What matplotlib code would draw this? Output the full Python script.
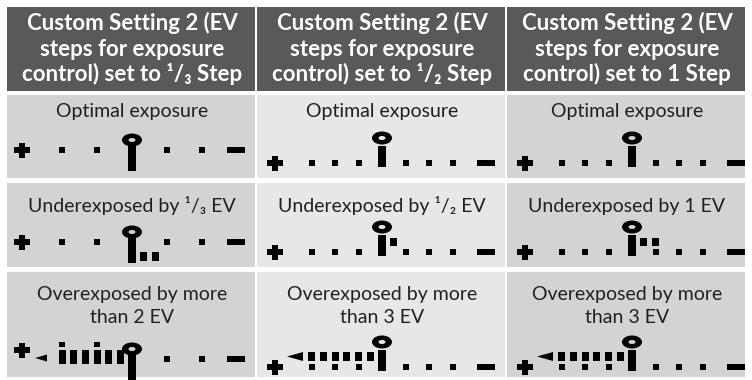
import matplotlib
matplotlib.use("Agg")
import matplotlib.pyplot as plt
from matplotlib.patches import Rectangle, Ellipse, Polygon

plt.rcParams['font.family'] = ['Lato', 'DejaVu Sans']

# ---------------- data ----------------
step_settings = ['¹/₃', '¹/₂', '1']
header_lines = [
    ['Custom Setting 2 (EV', 'steps for exposure', 'control) set to ¹/₃ Step'],
    ['Custom Setting 2 (EV', 'steps for exposure', 'control) set to ¹/₂ Step'],
    ['Custom Setting 2 (EV', 'steps for exposure', 'control) set to 1 Step'],
]
row_labels = [
    [['Optimal exposure'], ['Optimal exposure'], ['Optimal exposure']],
    [['Underexposed by ¹/₃ EV'], ['Underexposed by ¹/₂ EV'], ['Underexposed by 1 EV']],
    [['Overexposed by more', 'than 2 EV'], ['Overexposed by more', 'than 3 EV'],
     ['Overexposed by more', 'than 3 EV']],
]
# scale dots on each side of the centre mark, per column
scale_dots_per_side = [2, 3, 3]
# sub-divisions between two scale dots, per column
segments_per_dot = [3, 2, 2]
# deviation bars: + = under (to the right), - = over (to the left)
deviation_bars = [
    [0, 0, 0],
    [2, 1, 2],
    [-6, -6, -6],
]
# out-of-range arrow shown
over_range = [
    [False, False, False],
    [False, False, False],
    [True, True, True],
]

# ---------------- style / layout ----------------
HEADER_BG = '#58595b'
CELL_BG = ['#d1d3d4', '#e6e7e8', '#d1d3d4']
INK = '#231f20'
BLACK = '#000000'

col_x0 = [7, 257, 507]
col_x1 = [255, 505, 745]
header_y = (7, 91)
row_y = [(95, 178), (183, 267), (272, 377)]
header_baselines = [30, 55.5, 81]
label_baselines = [[117], [212], [300, 323]]

fig = plt.figure(figsize=(7.52, 3.80), dpi=100)
ax = fig.add_axes([0, 0, 1, 1])
ax.set_xlim(0, 752)
ax.set_ylim(380, 0)
ax.axis('off')


def rect_c(cx, cy, w, h, color=BLACK):
    ax.add_patch(Rectangle((cx - w / 2, cy - h / 2), w, h, facecolor=color,
                           edgecolor='none', zorder=3))


def plus(cx, cy):
    rect_c(cx, cy, 16, 5.5)
    rect_c(cx, cy, 5.5, 15)


def minus(cx, cy):
    rect_c(cx, cy, 18, 5.5)


def pin(cx, ring_y, bar_top, bar_bot, bg):
    ax.add_patch(Ellipse((cx, ring_y), 20, 13, facecolor=BLACK,
                         edgecolor='none', zorder=3))
    ax.add_patch(Ellipse((cx, ring_y), 7, 4, facecolor=bg,
                         edgecolor='none', zorder=4))
    ax.add_patch(Rectangle((cx - 4, bar_top), 8, bar_bot - bar_top,
                           facecolor=BLACK, edgecolor='none', zorder=3))


def arrow_left(x_tip, x_base, cy, h):
    ax.add_patch(Polygon([(x_tip, cy), (x_base, cy - h / 2), (x_base, cy + h / 2)],
                         closed=True, facecolor=BLACK, edgecolor='none', zorder=3))


# header cells
for c in range(3):
    ax.add_patch(Rectangle((col_x0[c], header_y[0]), col_x1[c] - col_x0[c],
                           header_y[1] - header_y[0], facecolor=HEADER_BG,
                           edgecolor='none'))
    cx = (col_x0[c] + col_x1[c]) / 2 + 1
    for line, yb in zip(header_lines[c], header_baselines):
        ax.text(cx, yb, line, ha='center', va='baseline', color='white',
                fontsize=16, fontweight='bold')

# body cells
for r in range(3):
    for c in range(3):
        x0, x1 = col_x0[c], col_x1[c]
        y0, y1 = row_y[r]
        bg = CELL_BG[c]
        ax.add_patch(Rectangle((x0, y0), x1 - x0, y1 - y0, facecolor=bg,
                               edgecolor='none'))
        cx = (x0 + x1) / 2 + 1
        for line, yb in zip(row_labels[r][c], label_baselines[r]):
            ax.text(cx, yb, line, ha='center', va='baseline', color=INK,
                    fontsize=14)

        # indicator
        n = scale_dots_per_side[c]
        seg = segments_per_dot[c]
        wide = (n == 2)
        spacing = 35.0 if wide else 23.5
        sub = spacing / seg
        px = x0 + 125
        if wide:
            dot_y = [150, 242, 359][r]
        else:
            dot_y = [163, 252, 367][r]
        dev = deviation_bars[r][c]
        arrow = over_range[r][c]

        # plus / minus
        plus_x = x0 + (15 if wide else 18)
        plus_y = dot_y - 9 if (wide and arrow) else dot_y
        plus(plus_x, plus_y)
        minus(x0 + 229, dot_y)

        # scale dots
        for k in range(1, n + 1):
            rect_c(px + k * spacing, dot_y, 6, 6)
            if dev >= 0 or not wide:
                rect_c(px - k * spacing, dot_y, 6, 6)

        # centre mark
        if wide:
            pin(px, dot_y - 10, dot_y - 4, dot_y + 21, bg)
        else:
            pin(px, dot_y - 25, dot_y - 17, dot_y + 4, bg)

        # deviation bars
        if dev > 0:
            for k in range(1, dev + 1):
                if wide:
                    rect_c(px + k * sub, dot_y + 14, 7, 9)
                else:
                    rect_c(px + k * sub, dot_y - 10.5, 7, 8)
        elif dev < 0:
            for k in range(1, -dev + 1):
                bx = px - k * sub
                if wide:
                    ax.add_patch(Rectangle((bx - 3.5, dot_y - 9), 7, 14,
                                           facecolor=BLACK, edgecolor='none', zorder=3))
                    if k % seg == 0:
                        rect_c(bx, dot_y - 15, 6, 5)
                else:
                    rect_c(bx, dot_y - 10.5, 7, 9)

        if arrow:
            if wide:
                arrow_left(plus_x + 13, plus_x + 25, dot_y - 1, 7)
            else:
                arrow_left(x0 + 30, x0 + 46, dot_y - 10.5, 9)

fig.savefig('out.png', dpi=100, facecolor='white')
